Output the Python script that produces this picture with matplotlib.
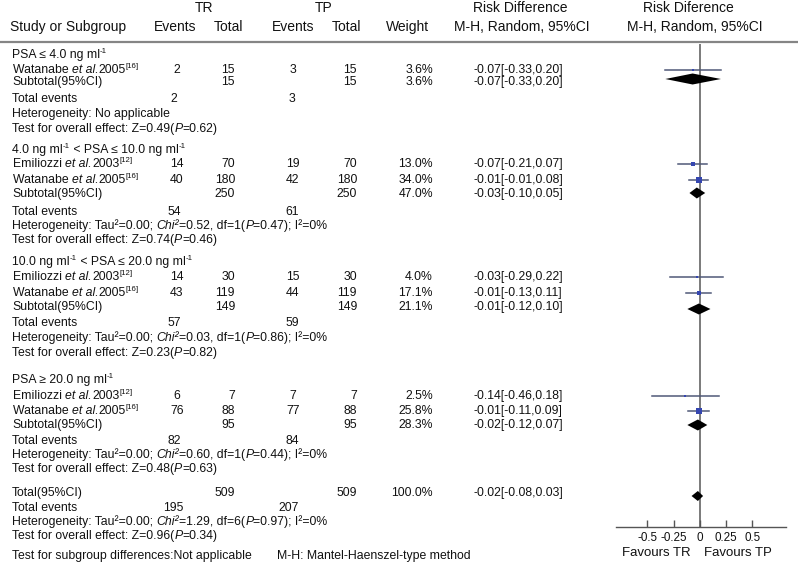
import matplotlib
matplotlib.use("Agg")
import matplotlib.pyplot as plt
import numpy as np

plt.rcParams['font.family'] = ['Liberation Sans', 'DejaVu Sans']

# ---------------- data ----------------
# text segments: (string, style) with style in {'n', 'it', 'sup'}
group_titles = [
    [("PSA ≤ 4.0 ng ml", 'n'), ("-1", 'sup')],
    [("4.0 ng ml", 'n'), ("-1", 'sup'), (" < PSA ≤ 10.0 ng ml", 'n'), ("-1", 'sup')],
    [("10.0 ng ml", 'n'), ("-1", 'sup'), (" < PSA ≤ 20.0 ng ml", 'n'), ("-1", 'sup')],
    [("PSA ≥ 20.0 ng ml", 'n'), ("-1", 'sup')],
]
study_authors = ["Watanabe", "Emiliozzi", "Watanabe", "Emiliozzi",
                 "Watanabe", "Emiliozzi", "Watanabe"]
study_years = ["2005", "2003", "2005", "2003", "2005", "2003", "2005"]
study_refs = ["[16]", "[12]", "[16]", "[12]", "[16]", "[12]", "[16]"]
study_group = [0, 1, 1, 2, 2, 3, 3]
tr_events = [2, 14, 40, 14, 43, 6, 76]
tr_total = [15, 70, 180, 30, 119, 7, 88]
tp_events = [3, 19, 42, 15, 44, 7, 77]
tp_total = [15, 70, 180, 30, 119, 7, 88]
weights = [3.6, 13.0, 34.0, 4.0, 17.1, 2.5, 25.8]
rd = [-0.07, -0.07, -0.01, -0.03, -0.01, -0.14, -0.01]
rd_lo = [-0.33, -0.21, -0.10, -0.29, -0.13, -0.46, -0.11]
rd_hi = [0.20, 0.07, 0.08, 0.22, 0.11, 0.18, 0.09]
rd_labels = ["-0.07[-0.33,0.20]", "-0.07[-0.21,0.07]", "-0.01[-0.01,0.08]",
             "-0.03[-0.29,0.22]", "-0.01[-0.13,0.11]", "-0.14[-0.46,0.18]",
             "-0.01[-0.11,0.09]"]

sub_tr_total = [15, 250, 149, 95]
sub_tp_total = [15, 250, 149, 95]
sub_tr_events = [2, 54, 57, 82]
sub_tp_events = [3, 61, 59, 84]
sub_weight = [3.6, 47.0, 21.1, 28.3]
sub_rd = [-0.07, -0.03, -0.01, -0.02]
sub_lo = [-0.33, -0.10, -0.12, -0.12]
sub_hi = [0.20, 0.05, 0.10, 0.07]
sub_chi2 = [None, "0.52", "0.03", "0.60"]
sub_df = [None, 1, 1, 1]
sub_het_p = [None, "0.47", "0.86", "0.44"]
sub_z = ["0.49", "0.74", "0.23", "0.48"]
sub_p = ["0.62", "0.46", "0.82", "0.63"]

total_tr_total = 509
total_tp_total = 509
total_tr_events = 195
total_tp_events = 207
total_weight = 100.0
total_rd = -0.02
total_lo = -0.08
total_hi = 0.03
total_chi2 = "1.29"
total_df = 6
total_het_p = "0.97"
total_z = "0.96"
total_p = "0.34"

x_ticks = [-0.5, -0.25, 0, 0.25, 0.5]
x_tick_labels = ["-0.5", "-0.25", "0", "0.25", "0.5"]

# ---------------- layout (pixel rows) ----------------
W, H = 800, 569
group_rows = [
    dict(title=55, studies=[70], sub=82, te=99, het=114, test=129),
    dict(title=150, studies=[164, 180], sub=194, te=212, het=226, test=240),
    dict(title=262, studies=[277, 293], sub=307, te=323, het=338, test=353),
    dict(title=380, studies=[396, 411], sub=425, te=441, het=455, test=469),
]
diamond_y = [79, 193, 309, 425]
total_row, total_te, total_het_y, total_test_y, total_diam_y = 493, 508, 522, 536, 496

X_LABEL = 12
X_TRE, X_TRT, X_TPE, X_TPT = 177, 235, 293, 357
X_W, X_RD = 433, 473

fig = plt.figure(figsize=(8, 5.69), dpi=100)
ax = fig.add_axes([0, 0, 1, 1])
ax.set_xlim(0, W)
ax.set_ylim(H, 0)
ax.axis('off')
renderer = fig.canvas.get_renderer()

TXT = '#111111'
FS = 8.8
HFS = 10

def t(x, y, s, ha='left', fs=FS, **kw):
    return ax.text(x, y, s, ha=ha, va='center', fontsize=fs, color=TXT, **kw)

def rich(x, y, segs, fs=FS):
    for s, st in segs:
        if st == 'sup':
            txt = ax.text(x, y - 3.5, s, ha='left', va='center', fontsize=fs * 0.64, color=TXT)
        elif st == 'it':
            txt = ax.text(x, y, s, ha='left', va='center', fontsize=fs, color=TXT, fontstyle='italic')
        else:
            txt = ax.text(x, y, s, ha='left', va='center', fontsize=fs, color=TXT)
        bb = txt.get_window_extent(renderer)
        x = ax.transData.inverted().transform((bb.x1, bb.y0))[0]
    return x

def het_segs(chi2, df, p):
    return [("Heterogeneity: Tau²=0.00; ", 'n'), ("Chi²", 'it'),
            (f"={chi2}, df={df}(", 'n'), ("P", 'it'), (f"={p}); I²=0%", 'n')]

def test_segs(z, p):
    return [(f"Test for overall effect: Z={z}(", 'n'), ("P", 'it'), (f"={p})", 'n')]

# headers
t(204, 8, "TR", ha='center', fs=HFS)
t(324, 8, "TP", ha='center', fs=HFS)
t(10, 27, "Study or Subgroup", fs=HFS)
t(175, 27, "Events", ha='center', fs=HFS)
t(229, 27, "Total", ha='center', fs=HFS)
t(293, 27, "Events", ha='center', fs=HFS)
t(346, 27, "Total", ha='center', fs=HFS)
t(408, 27, "Weight", ha='center', fs=HFS)
t(520, 8, "Risk Difference", ha='center', fs=HFS)
t(522, 27, "M-H, Random, 95%CI", ha='center', fs=HFS)
t(688, 8, "Risk Diference", ha='center', fs=HFS)
t(695, 27, "M-H, Random, 95%CI", ha='center', fs=HFS)
ax.plot([0, 798], [42, 42], color='#858585', lw=1.6, solid_capstyle='butt')

# forest axes
fx = fig.add_axes([616 / W, 0, 170 / W, 1])
fx.set_xlim(-0.8, 0.82)
fx.set_ylim(H, 0)
fx.patch.set_alpha(0)
for side in ['top', 'left', 'right']:
    fx.spines[side].set_visible(False)
fx.spines['bottom'].set_position(('data', 527))
fx.spines['bottom'].set_color('#555555')
fx.spines['bottom'].set_linewidth(1.0)
fx.set_yticks([])
fx.set_xticks(x_ticks)
fx.set_xticklabels(x_tick_labels, fontsize=8.4, color=TXT)
fx.tick_params(axis='x', direction='in', length=5, width=1.0, color='#555555', pad=3.5)
fx.vlines(0, 44, 527, color='#7a7a7a', lw=1.4, zorder=1)
fx.text(-0.42, 553, "Favours TR", ha='center', va='center', fontsize=HFS - 0.5, color=TXT)
fx.text(0.36, 553, "Favours TP", ha='center', va='center', fontsize=HFS - 0.5, color=TXT)

CI_COL = '#4f5878'
SQ_COL = '#3546b0'

def diamond(y, est, lo, hi, h=5.5):
    fx.fill([lo, est, hi, est], [y, y - h, y, y + h], color='black', lw=0, zorder=4)

for g in range(4):
    r = group_rows[g]
    rich(X_LABEL, r['title'], group_titles[g])
    idx = [i for i in range(len(study_group)) if study_group[i] == g]
    for k, i in enumerate(idx):
        y = r['studies'][k]
        rich(X_LABEL + 1, y, [(study_authors[i] + " ", 'n'), ("et al.", 'it'),
                              (study_years[i], 'n'), (study_refs[i], 'sup')])
        t(X_TRE, y, str(tr_events[i]), ha='center')
        t(X_TRT, y, str(tr_total[i]), ha='right')
        t(X_TPE, y, str(tp_events[i]), ha='center')
        t(X_TPT, y, str(tp_total[i]), ha='right')
        t(X_W, y, f"{weights[i]:.1f}%", ha='right')
        t(X_RD, y, rd_labels[i])
        fx.plot([rd_lo[i], rd_hi[i]], [y, y], color=CI_COL, lw=1.1, zorder=2)
        side_px = 1.2 * np.sqrt(weights[i])
        fx.scatter([rd[i]], [y], marker='s', s=(side_px * 0.72) ** 2,
                   color=SQ_COL, lw=0, zorder=3)
    y = r['sub']
    t(X_LABEL, y, "Subtotal(95%CI)")
    t(X_TRT, y, str(sub_tr_total[g]), ha='right')
    t(X_TPT, y, str(sub_tp_total[g]), ha='right')
    t(X_W, y, f"{sub_weight[g]:.1f}%", ha='right')
    t(X_RD, y, f"{sub_rd[g]:.2f}[{sub_lo[g]:.2f},{sub_hi[g]:.2f}]")
    diamond(diamond_y[g], sub_rd[g], sub_lo[g], sub_hi[g])
    t(X_LABEL, r['te'], "Total events")
    t(X_TRE - 3, r['te'], str(sub_tr_events[g]), ha='center')
    t(X_TPE - 1, r['te'], str(sub_tp_events[g]), ha='center')
    if sub_chi2[g] is None:
        t(X_LABEL, r['het'], "Heterogeneity: No applicable")
    else:
        rich(X_LABEL, r['het'], het_segs(sub_chi2[g], sub_df[g], sub_het_p[g]))
    rich(X_LABEL, r['test'], test_segs(sub_z[g], sub_p[g]))

# overall
t(X_LABEL, total_row, "Total(95%CI)")
t(X_TRT, total_row, str(total_tr_total), ha='right')
t(X_TPT, total_row, str(total_tp_total), ha='right')
t(X_W, total_row, f"{total_weight:.1f}%", ha='right')
t(X_RD, total_row, f"{total_rd:.2f}[{total_lo:.2f},{total_hi:.2f}]")
diamond(total_diam_y, total_rd, total_lo, total_hi, h=5)
t(X_LABEL, total_te, "Total events")
t(X_TRE - 4, total_te, str(total_tr_events), ha='center')
t(X_TPE - 4, total_te, str(total_tp_events), ha='center')
rich(X_LABEL, total_het_y, het_segs(total_chi2, total_df, total_het_p))
rich(X_LABEL, total_test_y, test_segs(total_z, total_p))
t(X_LABEL, 556, "Test for subgroup differences:Not applicable")
t(277, 556, "M-H: Mantel-Haenszel-type method")

fig.savefig("out.png", dpi=100)
